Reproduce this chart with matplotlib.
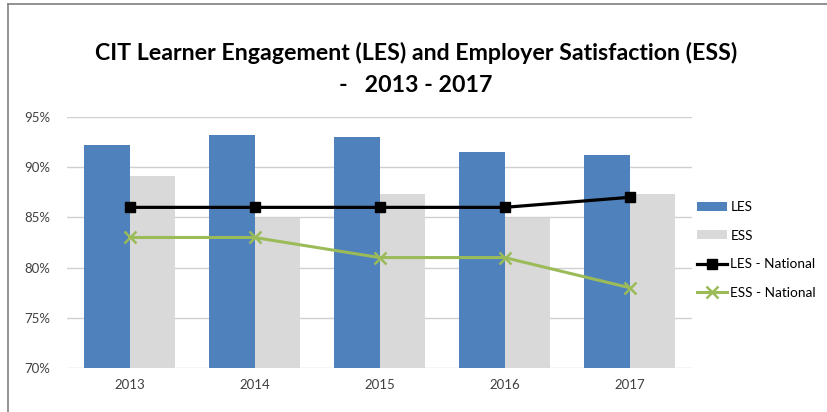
import matplotlib
matplotlib.use("Agg")
import matplotlib.pyplot as plt
from matplotlib.lines import Line2D
import numpy as np

years = ["2013", "2014", "2015", "2016", "2017"]
les = [92.2, 93.2, 93.0, 91.5, 91.2]
ess = [89.1, 84.9, 87.3, 84.9, 87.3]
les_national = [86, 86, 86, 86, 87]
ess_national = [83, 83, 81, 81, 78]
yticks = [70, 75, 80, 85, 90, 95]
ytick_labels = ["70%", "75%", "80%", "85%", "90%", "95%"]

plt.rcParams['font.family'] = ['Lato', 'DejaVu Sans']

W, H = 827, 412
fig = plt.figure(figsize=(W / 100, H / 100), dpi=100)
ax = fig.add_axes([67 / W, 1 - 368 / H, (692 - 67) / W, (368 - 117) / H])

x = np.arange(len(years))
bw = 0.365
b1 = ax.bar(x - bw / 2, les, bw, color="#4F81BD", label="LES", zorder=2)
b2 = ax.bar(x + bw / 2, ess, bw, color="#D9D9D9", label="ESS", zorder=2)
l1, = ax.plot(x, les_national, color="black", lw=2.3, marker="s", ms=7.5,
              label="LES - National", zorder=3)
l2, = ax.plot(x, ess_national, color="#9BBB59", lw=2.2, marker="x", ms=8, mew=1.8,
              label="ESS - National", zorder=3)

ax.set_xlim(-0.5, len(years) - 0.5)
ax.set_ylim(70, 95)
ax.set_yticks(yticks)
ax.set_yticklabels(ytick_labels, fontsize=9.5, color="#404040")
ax.set_xticks(x)
ax.set_xticklabels(years, fontsize=9.5, color="#404040")
ax.tick_params(axis="both", length=0, pad=8)
ax.tick_params(axis="y", pad=12)
ax.grid(axis="y", color="#D0D0D0", lw=1, zorder=0)
for s in ax.spines.values():
    s.set_visible(False)

fig.text(416 / W, 1 - 53 / H, "CIT Learner Engagement (LES) and Employer Satisfaction (ESS)",
         ha="center", va="center", fontsize=16.7, fontweight="bold", color="black")
fig.text(416 / W, 1 - 86 / H, "-   2013 - 2017",
         ha="center", va="center", fontsize=16.7, fontweight="bold", color="black")

handles = [b1, b2, l1, l2]
labels = [h.get_label() for h in handles]
leg = fig.legend(handles, labels, loc="upper left", bbox_to_anchor=(697 / W, 1 - 201 / H),
                 frameon=False, fontsize=9.8, handlelength=2.2, handleheight=0.6,
                 handletextpad=0.25, labelspacing=1.22, borderaxespad=0, borderpad=0)

fig.add_artist(Line2D([8 / W, 8 / W], [0, 1 - 3.5 / H], color="#808080", lw=1.2))
fig.add_artist(Line2D([8 / W, 1], [1 - 3.5 / H, 1 - 3.5 / H], color="#808080", lw=1.2))

fig.savefig("out.png", dpi=100)
